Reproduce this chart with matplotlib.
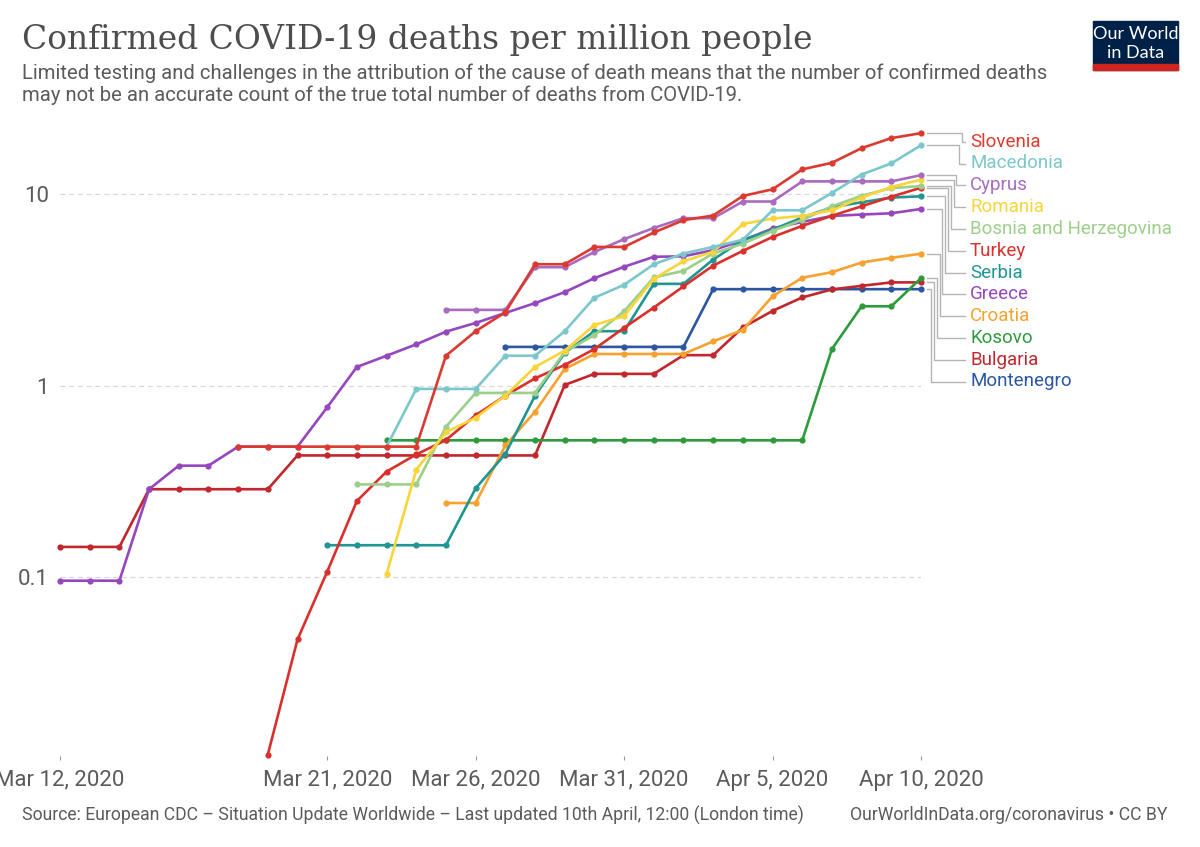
import numpy as np
import pandas as pd
import matplotlib
matplotlib.use("Agg")
import matplotlib.pyplot as plt
from matplotlib.lines import Line2D
from matplotlib.patches import Rectangle
from matplotlib.transforms import IdentityTransform

nan = np.nan

dates = pd.date_range("2020-03-12", "2020-04-10", freq="D")

tick_dates = pd.to_datetime(["2020-03-12", "2020-03-21", "2020-03-26",
                             "2020-03-31", "2020-04-05", "2020-04-10"])
tick_labels = ["Mar 12, 2020", "Mar 21, 2020", "Mar 26, 2020",
               "Mar 31, 2020", "Apr 5, 2020", "Apr 10, 2020"]

# confirmed deaths per million, Mar 12 .. Apr 10
slovenia = [nan] * 6 + [0.48] * 7 + [1.43, 1.92, 2.41, 4.29, 4.29, 5.28, 5.28, 6.28,
                                     7.28, 7.7, 9.74, 10.55, 13.4, 14.5, 17.3, 19.5, 20.7]
macedonia = [nan] * 11 + [0.48, 0.96, 0.96, 0.96, 1.43, 1.43, 1.92, 2.87, 3.35, 4.29,
                          4.88, 5.28, 5.76, 8.2, 8.2, 10.1, 12.6, 14.4, 17.9]
cyprus = [nan] * 13 + [2.48, 2.48, 2.48, 4.14, 4.14, 4.97, 5.8, 6.63, 7.46, 7.46,
                       9.11, 9.11, 11.6, 11.6, 11.6, 11.6, 12.5]
romania = [nan] * 11 + [0.104, 0.364, 0.57, 0.68, 0.885, 1.25, 1.52, 2.07, 2.3, 3.6,
                        4.45, 4.98, 6.95, 7.43, 7.66, 8.2, 9.55, 10.85, 11.85]
bosnia = [nan] * 10 + [0.305, 0.305, 0.305, 0.61, 0.915, 0.915, 0.915, 1.5, 1.83, 2.44,
                       3.66, 3.96, 4.88, 5.49, 6.4, 7.3, 8.6, 9.76, 10.7, 10.97]
turkey = [nan] * 7 + [0.0119, 0.0474, 0.107, 0.25, 0.356, 0.437, 0.52, 0.70, 0.885,
                      1.09, 1.28, 1.55, 2.0, 2.55, 3.29, 4.22, 5.04, 5.95, 6.8, 7.68,
                      8.6, 9.65, 10.75]
serbia = [nan] * 9 + [0.147] * 5 + [0.291, 0.44, 0.885, 1.48, 1.92, 1.92, 3.39, 3.39,
                                    4.54, 5.73, 6.5, 7.52, 8.5, 9.03, 9.55, 9.7]
greece = [0.096, 0.096, 0.096, 0.288, 0.382, 0.382, 0.48, 0.48, 0.48, 0.77, 1.25, 1.43,
          1.64, 1.91, 2.12, 2.39, 2.69, 3.07, 3.63, 4.16, 4.69, 4.72, 5.08, 5.72, 6.59,
          7.13, 7.66, 7.79, 7.91, 8.33]
croatia = [nan] * 13 + [0.244, 0.244, 0.487, 0.73, 1.22, 1.46, 1.46, 1.46, 1.46, 1.7,
                        1.95, 2.92, 3.65, 3.9, 4.38, 4.63, 4.87]
kosovo = [nan] * 11 + [0.518] * 15 + [1.55, 2.59, 2.59, 3.63]
bulgaria = [0.144] * 3 + [0.288] * 5 + [0.432] * 9 + [1.007, 1.15, 1.15, 1.15, 1.44, 1.44,
                                                      2.01, 2.45, 2.88, 3.17, 3.31, 3.45, 3.45]
montenegro = [nan] * 15 + [1.59] * 7 + [3.18] * 8

countries = ["Slovenia", "Macedonia", "Cyprus", "Romania", "Bosnia and Herzegovina",
             "Turkey", "Serbia", "Greece", "Croatia", "Kosovo", "Bulgaria", "Montenegro"]
series = [slovenia, macedonia, cyprus, romania, bosnia, turkey, serbia, greece,
          croatia, kosovo, bulgaria, montenegro]
colors = ["#dc3a2f", "#7cc7cb", "#a86bbf", "#f9d43a", "#9dcf8a", "#d9302c",
          "#1f9693", "#9646be", "#f7a12f", "#2d9a3c", "#c1272d", "#2b56a3"]

W, H = 1200, 847
font = "Roboto"
grey = "#5b5b5b"

fig = plt.figure(figsize=(W / 100, H / 100), dpi=100)
ax = fig.add_axes([60 / W, (H - 756) / H, (921 - 60) / W, (756 - 130) / H])

# draw back to front so the legend-top lines sit on top
for name, vals, col in reversed(list(zip(countries, series, colors))):
    ax.plot(dates, vals, color=col, lw=1.9, marker="o", ms=4.5,
            markeredgewidth=0, clip_on=False, zorder=3)

ax.set_yscale("log")
ax.set_ylim(0.0117, 21.5)
ax.set_xlim(dates[0], dates[-1])
ax.set_yticks([0.1, 1, 10])
ax.set_yticklabels(["0.1", "1", "10"])
ax.yaxis.set_minor_locator(plt.NullLocator())
ax.set_xticks(tick_dates)
ax.set_xticklabels(tick_labels)
ax.tick_params(axis="y", length=0, pad=8, labelsize=16, labelcolor=grey)
ax.tick_params(axis="x", length=3, width=0.8, color="#999999", pad=7,
               labelsize=16, labelcolor=grey)
for lab in ax.get_xticklabels() + ax.get_yticklabels():
    lab.set_family(font)
ax.grid(axis="y", which="major", ls=(0, (4, 3)), color="#d9d9d9", lw=0.9)
ax.grid(axis="x", visible=False)
for s in ax.spines.values():
    s.set_visible(False)
ax.set_facecolor("none")

# labels on the right with elbow connectors
for k, (name, vals, col) in enumerate(zip(countries, series, colors)):
    ly = 141.7 + 21.8 * k
    fig.text(970 / W, 1 - ly / H, name, color=col, fontsize=13.5, family=font,
             va="center", ha="left")
    _, ey = ax.transData.transform((matplotlib.dates.date2num(dates[-1]), vals[-1]))
    bx = 962 - 2.8 * k
    fig.add_artist(Line2D([927, bx, bx, 965], [ey, ey, H - ly, H - ly],
                          transform=IdentityTransform(), color="#b5b5b5", lw=1))

fig.text(22 / W, 1 - 40 / H, "Confirmed COVID-19 deaths per million people",
         family="DejaVu Serif", fontsize=23.7, color="#4d4d4d", va="center")
fig.text(22 / W, 1 - 84.5 / H,
         "Limited testing and challenges in the attribution of the cause of death means that the number of confirmed deaths\n"
         "may not be an accurate count of the true total number of deaths from COVID-19.",
         family=font, fontsize=14.6, color=grey, va="center", linespacing=1.17)

fig.text(22 / W, 1 - 815 / H,
         "Source: European CDC \u2013 Situation Update Worldwide \u2013 Last updated 10th April, 12:00 (London time)",
         family=font, fontsize=12.7, color=grey, va="center")
fig.text(1168 / W, 1 - 815 / H, "OurWorldInData.org/coronavirus \u2022 CC BY",
         family=font, fontsize=12.7, color=grey, va="center", ha="right")

# logo
fig.add_artist(Rectangle((1093 / W, 1 - 70 / H), 85 / W, 49 / H,
                         transform=fig.transFigure, color="#002147"))
fig.add_artist(Rectangle((1093 / W, 1 - 70 / H), 85 / W, 6 / H,
                         transform=fig.transFigure, color="#ce261e"))
fig.text(1135.5 / W, 1 - 34 / H, "Our World", family="Lato", fontsize=13,
         color="white", ha="center", va="center")
fig.text(1135.5 / W, 1 - 53 / H, "in Data", family="Lato", fontsize=13,
         color="white", ha="center", va="center")

fig.savefig("out.png", dpi=100, facecolor="white")
